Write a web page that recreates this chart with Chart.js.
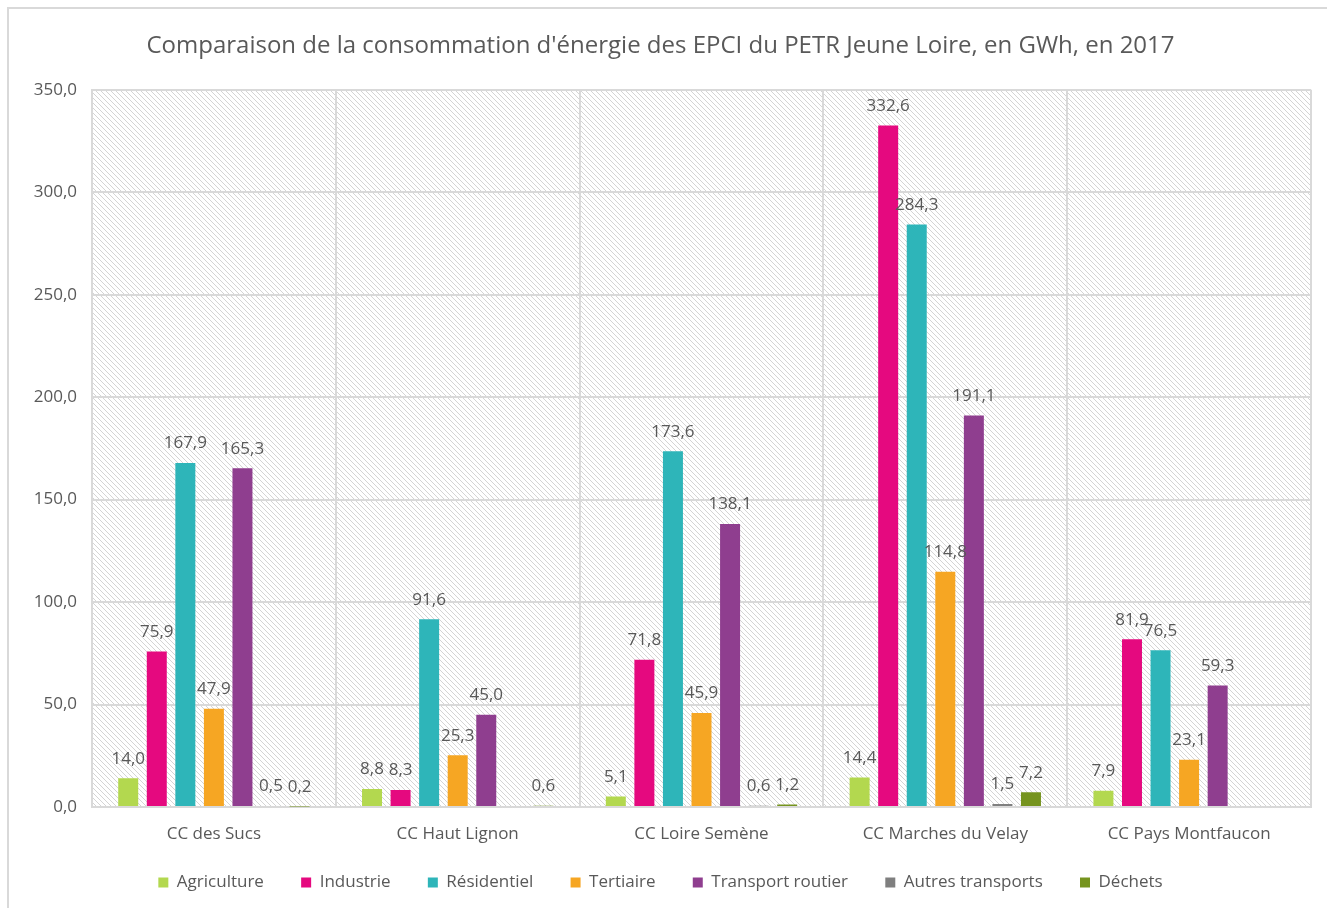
<!DOCTYPE html>
<html lang="fr">
<head>
<meta charset="utf-8">
<title>Consommation d'énergie des EPCI</title>
<script src="https://cdn.jsdelivr.net/npm/chart.js@4"></script>
<style>
  html, body { margin: 0; padding: 0; background: #fff; }
  #wrap { width: 1327px; height: 908px; position: relative; }
</style>
</head>
<body>
<div id="wrap"><canvas id="conso"></canvas></div>
<script>
// Données (GWh, 2017)
const epci = ["CC des Sucs", "CC Haut Lignon", "CC Loire Semène", "CC Marches du Velay", "CC Pays Montfaucon"];
const secteurs = ["Agriculture", "Industrie", "Résidentiel", "Tertiaire", "Transport routier", "Autres transports", "Déchets"];
const agriculture = [14.0, 8.8, 5.1, 14.4, 7.9];
const industrie = [75.9, 8.3, 71.8, 332.6, 81.9];
const residentiel = [167.9, 91.6, 173.6, 284.3, 76.5];
const tertiaire = [47.9, 25.3, 45.9, 114.8, 23.1];
const transportRoutier = [165.3, 45.0, 138.1, 191.1, 59.3];
const autresTransports = [0.5, null, 0.6, 1.5, null];
const dechets = [0.2, 0.6, 1.2, 7.2, null];
const yTicks = [0, 50, 100, 150, 200, 250, 300, 350];

const couleurs = ['#b3d84f', '#e5097f', '#2eb5b9', '#f6a623', '#8f3e8f', '#7f7f7f', '#76941f'];
const series = [agriculture, industrie, residentiel, tertiaire, transportRoutier, autresTransports, dechets];

const police = "'Open Sans', sans-serif";
const gris = '#595959';

function virgule(v) {
  return v.toFixed(1).replace('.', ',');
}

// fond hachuré de la zone de tracé
function hachures(ctx) {
  const s = 5;
  const c = document.createElement('canvas');
  c.width = s; c.height = s;
  const g = c.getContext('2d');
  g.strokeStyle = '#d4d4d4';
  g.lineWidth = 1;
  g.beginPath();
  g.moveTo(-1, -1); g.lineTo(s + 1, s + 1);
  g.moveTo(-1, s - 1); g.lineTo(1, s + 1);
  g.moveTo(s - 1, -1); g.lineTo(s + 1, 1);
  g.stroke();
  return ctx.createPattern(c, 'repeat');
}

const fondPlugin = {
  id: 'fond',
  beforeDraw(chart) {
    const ctx = chart.ctx;
    const a = chart.chartArea;
    ctx.save();
    ctx.fillStyle = '#fff';
    ctx.fillRect(0, 0, chart.width, chart.height);
    ctx.strokeStyle = '#d9d9d9';
    ctx.lineWidth = 2;
    ctx.strokeRect(8, 8, chart.width + 20, chart.height + 20);
    ctx.fillStyle = hachures(ctx);
    ctx.fillRect(a.left, a.top, a.right - a.left, a.bottom - a.top);
    ctx.restore();
  }
};

// étiquettes de valeurs au-dessus des barres
const etiquettesPlugin = {
  id: 'etiquettes',
  afterDatasetsDraw(chart) {
    const ctx = chart.ctx;
    ctx.save();
    ctx.font = "17px " + police;
    ctx.fillStyle = gris;
    ctx.textAlign = 'center';
    ctx.textBaseline = 'bottom';
    chart.data.datasets.forEach((ds, i) => {
      chart.getDatasetMeta(i).data.forEach((bar, j) => {
        const v = ds.data[j];
        if (v === null || v === undefined) return;
        ctx.fillText(virgule(v), bar.x, bar.y - 11);
      });
    });
    ctx.restore();
  }
};

new Chart(document.getElementById('conso'), {
  type: 'bar',
  data: {
    labels: epci,
    datasets: secteurs.map((nom, i) => ({
      label: nom,
      data: series[i],
      backgroundColor: couleurs[i],
      borderWidth: 0,
      categoryPercentage: 0.82,
      barPercentage: 0.70
    }))
  },
  options: {
    responsive: true,
    maintainAspectRatio: false,
    animation: false,
    layout: { padding: { left: 10, right: 16, top: 32, bottom: 7 } },
    plugins: {
      title: {
        display: true,
        text: "Comparaison de la consommation d'énergie des EPCI du PETR Jeune Loire, en GWh, en 2017",
        color: gris,
        font: { family: police, size: 24, weight: 'normal' },
        padding: { top: 0, bottom: 29 }
      },
      legend: {
        position: 'bottom',
        labels: {
          color: gris,
          font: { family: police, size: 17 },
          boxWidth: 10,
          boxHeight: 10,
          padding: 24,
          // un peu plus d'espace entre les éléments de légende
          generateLabels(chart) {
            const items = Chart.defaults.plugins.legend.labels.generateLabels(chart);
            items.forEach((it, k) => {
              if (k < items.length - 1) it.text = it.text + '\u00a0\u00a0\u00a0';
            });
            return items;
          }
        }
      },
      tooltip: { enabled: false }
    },
    scales: {
      x: {
        afterFit(scale) { scale.height = 43; },
        grid: { color: '#d9d9d9', lineWidth: 2, drawTicks: false },
        border: { color: '#d9d9d9', width: 2 },
        ticks: { color: gris, font: { family: police, size: 17 }, padding: 17 }
      },
      y: {
        min: 0,
        max: 350,
        afterBuildTicks(scale) {
          scale.ticks = yTicks.map(v => ({ value: v }));
        },
        afterFit(scale) { scale.width = 82; },
        grid: { color: '#d9d9d9', lineWidth: 2, drawTicks: false },
        border: { color: '#d9d9d9', width: 2 },
        ticks: {
          color: gris,
          font: { family: police, size: 17 },
          padding: 15,
          callback: v => virgule(v)
        }
      }
    }
  },
  plugins: [fondPlugin, etiquettesPlugin]
});
</script>
</body>
</html>
